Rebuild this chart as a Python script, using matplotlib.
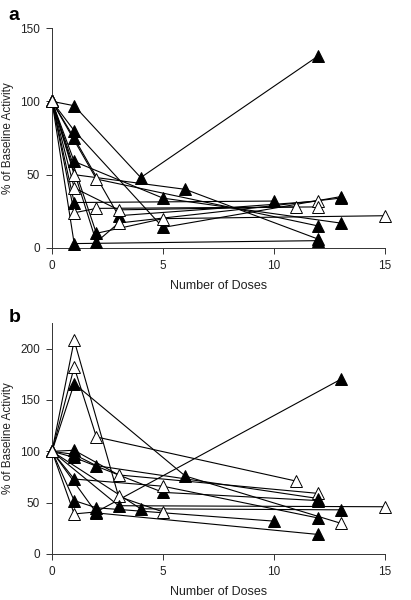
import matplotlib
matplotlib.use("Agg")
import matplotlib.pyplot as plt

plt.rcParams['font.family'] = ['Liberation Sans', 'DejaVu Sans']

# panel a: each patient -> doses, % of baseline, filled flag per point
a_x = [[0, 1, 4, 12], [0, 1, 5, 13], [0, 1, 3, 12], [0, 1, 5, 13],
       [0, 1, 6, 12], [0, 1, 3, 11], [0, 1, 10], [0, 1, 2, 12],
       [0, 1, 12], [0, 2, 12], [0, 2, 5, 15], [0, 2, 3, 13]]
a_y = [[100, 97, 48, 131], [100, 80, 14, 35], [100, 75, 22, 32], [100, 59, 34, 17],
       [100, 50, 40, 6], [100, 41, 26, 28], [100, 31, 32], [100, 24, 27, 28],
       [100, 3, 5], [100, 47, 15], [100, 10, 20, 22], [100, 4, 17, 34]]
a_f = [[0, 1, 1, 1], [0, 1, 1, 1], [0, 1, 1, 0], [0, 1, 1, 1],
       [0, 0, 1, 1], [0, 0, 0, 0], [0, 1, 1], [0, 0, 0, 0],
       [0, 1, 1], [0, 0, 1], [0, 1, 0, 0], [0, 1, 0, 1]]

# panel b
b_x = [[0, 1, 3, 5], [0, 1, 2, 11], [0, 1, 6, 13], [0, 1, 3, 12],
       [0, 1, 2, 12], [0, 1, 5, 12], [0, 1, 5, 12], [0, 1, 2, 10],
       [0, 1, 2, 13], [0, 2, 12], [0, 3, 15], [0, 4, 13]]
b_y = [[100, 208, 56, 41], [100, 182, 114, 71], [100, 166, 76, 30], [100, 101, 77, 59],
       [100, 97, 86, 54], [100, 94, 60, 52], [100, 73, 66, 35], [100, 52, 45, 32],
       [100, 39, 41, 170], [100, 40, 19], [100, 47, 46], [100, 44, 43]]
b_f = [[0, 0, 0, 0], [0, 0, 0, 0], [0, 1, 1, 0], [0, 1, 0, 0],
       [0, 1, 1, 1], [0, 1, 1, 1], [0, 1, 0, 1], [0, 1, 1, 1],
       [0, 0, 1, 1], [0, 1, 1], [0, 1, 0], [0, 1, 1]]

fig = plt.figure(figsize=(4.11, 6), dpi=100)
ax_a = fig.add_axes([0.1265, 0.5867, 0.81, 0.3666])
ax_b = fig.add_axes([0.1265, 0.0767, 0.81, 0.385])


def draw(ax, xs, ys, fs, ymax, yticks):
    for x, y, f in zip(xs, ys, fs):
        ax.plot(x, y, color='black', lw=0.8, zorder=2)
    for x, y, f in zip(xs, ys, fs):
        for xi, yi, fi in zip(x, y, f):
            ax.plot(xi, yi, marker='^', ms=8, mec='black', mew=0.7,
                    mfc='black' if fi else 'white', zorder=3, clip_on=False)
    ax.set_xlim(0, 15)
    ax.set_ylim(0, ymax)
    ax.set_xticks([0, 5, 10, 15])
    ax.set_yticks(yticks)
    for s in ['top', 'right']:
        ax.spines[s].set_visible(False)
    for s in ['left', 'bottom']:
        ax.spines[s].set_linewidth(0.7)
        ax.spines[s].set_color('#333333')
    ax.tick_params(direction='out', length=4.5, width=0.7, colors='#333333',
                   labelsize=8.5, labelcolor='#222222', pad=4)
    ax.set_xlabel('Number of Doses', fontsize=9, color='#222222', labelpad=6)
    ax.set_ylabel('% of Baseline Activity', fontsize=8.5, color='#222222')
    ax.yaxis.set_label_coords(-0.115, 0.5)


draw(ax_a, a_x, a_y, a_f, 150, [0, 50, 100, 150])
draw(ax_b, b_x, b_y, b_f, 225, [0, 50, 100, 150, 200])

fig.text(0.02, 0.975, 'a', fontsize=14, fontweight='bold', va='center')
fig.text(0.02, 0.47, 'b', fontsize=14, fontweight='bold', va='center')

fig.savefig('out.png', dpi=100)
